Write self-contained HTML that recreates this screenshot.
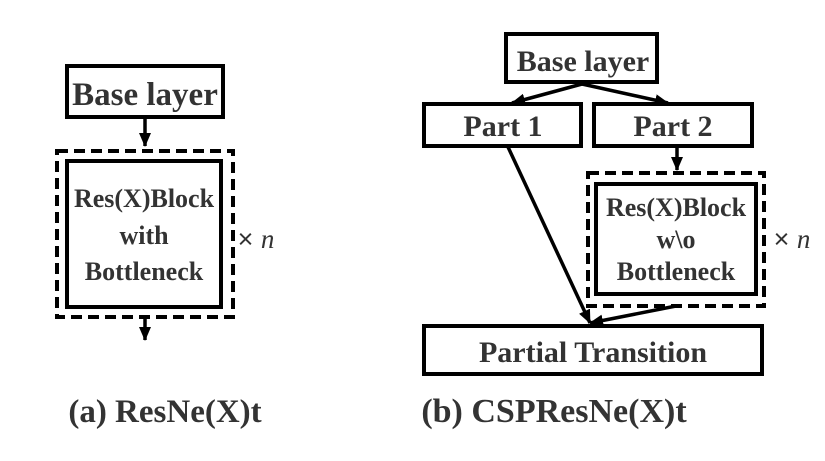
<!DOCTYPE html>
<html><head><style>
html,body{margin:0;padding:0;background:#fff;}
.t{font-family:"Liberation Serif","DejaVu Serif",serif;font-weight:bold;fill:#333;text-anchor:middle;}
</style></head><body>
<svg width="825" height="456" viewBox="0 0 825 456" xmlns="http://www.w3.org/2000/svg">
<defs>
<marker id="b" markerWidth="14" markerHeight="12" refX="13" refY="6" orient="auto" markerUnits="userSpaceOnUse"><path d="M0,0 L14,6 L0,12 z" fill="#000"/></marker></defs>
<g fill="none" stroke="#000" stroke-width="4">
<rect x="67" y="66" width="156" height="51"/>
<rect x="57" y="151" width="176" height="166" stroke-dasharray="11,6"/>
<rect x="67" y="161" width="154" height="146"/>
<rect x="506" y="34" width="151" height="48"/>
<rect x="424" y="104" width="157" height="42"/>
<rect x="594" y="104" width="158" height="42"/>
<rect x="588" y="173" width="176" height="133" stroke-dasharray="11,6"/>
<rect x="596" y="184" width="160" height="110"/>
<rect x="424" y="326" width="338" height="48"/>
</g>
<g stroke="#000" stroke-width="3.5" fill="none">
<line x1="145" y1="118" x2="145" y2="146" marker-end="url(#b)"/>
<line x1="145" y1="318" x2="145" y2="340" marker-end="url(#b)"/>
<line x1="582" y1="84" x2="512" y2="103" marker-end="url(#b)"/>
<line x1="582" y1="84" x2="668" y2="103" marker-end="url(#b)"/>
<line x1="677" y1="147" x2="677" y2="170" marker-end="url(#b)"/>
<line x1="508" y1="147" x2="590" y2="323" marker-end="url(#b)"/>
<line x1="676" y1="306" x2="590" y2="323" marker-end="url(#b)"/>
</g>
<text class="t" font-family="Liberation Serif, serif" x="145" y="105" font-size="33">Base layer</text>
<text class="t" font-family="Liberation Serif, serif" x="144" y="207" font-size="26">Res(X)Block</text>
<text class="t" font-family="Liberation Serif, serif" x="144" y="244" font-size="26">with</text>
<text class="t" font-family="Liberation Serif, serif" x="144" y="280" font-size="26">Bottleneck</text>
<text class="t" font-family="Liberation Serif, serif" x="583" y="71" font-size="30">Base layer</text>
<text class="t" font-family="Liberation Serif, serif" x="503" y="136" font-size="30">Part 1</text>
<text class="t" font-family="Liberation Serif, serif" x="673" y="136" font-size="30">Part 2</text>
<text class="t" font-family="Liberation Serif, serif" x="676" y="216" font-size="26">Res(X)Block</text>
<text class="t" font-family="Liberation Serif, serif" x="676" y="248" font-size="26">w\o</text>
<text class="t" font-family="Liberation Serif, serif" x="676" y="280" font-size="26">Bottleneck</text>
<text class="t" font-family="Liberation Serif, serif" x="593" y="362" font-size="30">Partial Transition</text>
<text class="t" font-family="Liberation Serif, serif" x="165" y="422" font-size="33">(a) ResNe(X)t</text>
<text class="t" font-family="Liberation Serif, serif" x="554" y="422" font-size="34">(b) CSPResNe(X)t</text>
<text x="256" y="248" font-size="27" text-anchor="middle" fill="#333" font-family="Liberation Sans, sans-serif">× <tspan font-style="italic" font-family="Liberation Serif, serif">n</tspan></text>
<text x="792" y="248" font-size="27" text-anchor="middle" fill="#333" font-family="Liberation Sans, sans-serif">× <tspan font-style="italic" font-family="Liberation Serif, serif">n</tspan></text>
</svg>
</body></html>
